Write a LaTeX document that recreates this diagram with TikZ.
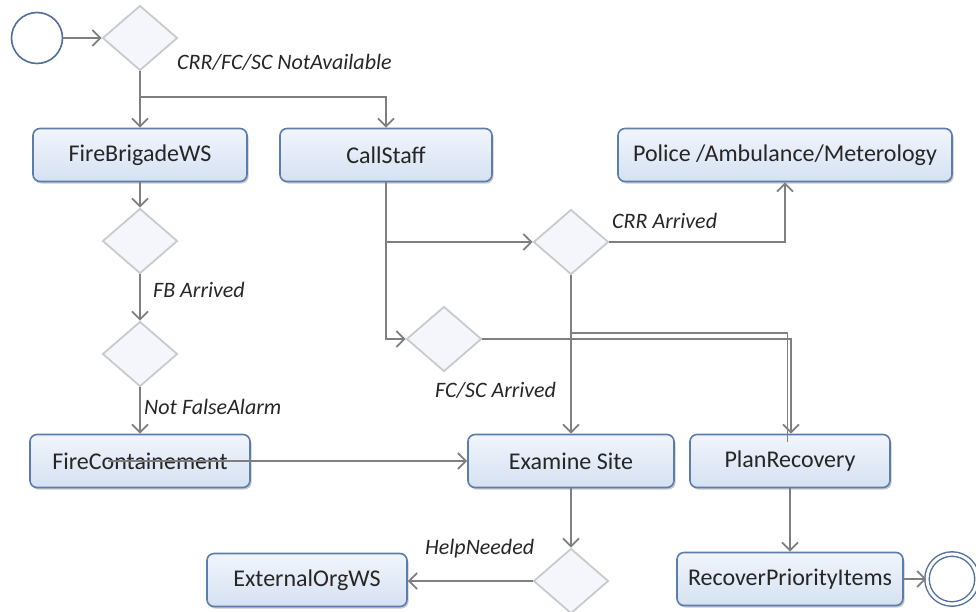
\documentclass[tikz,border=0pt]{standalone}
\usepackage{fontspec}
\setmainfont{Carlito}
\usepackage{xcolor}
\usepackage{tikz}
\usetikzlibrary{calc,arrows.meta,positioning,shapes.geometric,shadows}
\definecolor{boxedge}{HTML}{5B7DAE}
\definecolor{boxtop}{HTML}{F1F5FC}
\definecolor{boxbot}{HTML}{D5E1F2}
\definecolor{flowgray}{HTML}{7F7F7F}
\definecolor{diaedge}{HTML}{C8CACE}
\definecolor{diafill}{HTML}{F4F6FB}
\definecolor{startedge}{HTML}{4E6E9E}

\begin{document}
\begin{tikzpicture}[x=1pt, y=-1pt,
  box/.style={draw=boxedge, line width=1.6pt, rounded corners=7pt, top color=boxtop, bottom color=boxbot,
    minimum height=53pt, inner sep=2pt, text=black!85, font=\fontsize{24}{28}\selectfont,
    drop shadow={shadow xshift=1.5pt, shadow yshift=-2pt, opacity=.3, fill=black!70}},
  decision/.style={diamond, draw=diaedge, fill=diafill, line width=1.8pt, minimum width=75pt, minimum height=65pt, inner sep=0pt},
  link/.style={draw=flowgray, line width=1.8pt},
  flow/.style={link, -{Straight Barb[length=8pt,width=16pt,line width=1.8pt]}},
  guard/.style={anchor=west, inner sep=0pt, text=black!85, font=\fontsize{22}{26}\selectfont\itshape}]
  \useasboundingbox (0,0) rectangle (976,611);
  \node[circle, draw=startedge, line width=1.6pt, fill=white, minimum size=51pt, inner sep=0pt] (start) at (37,38) {};
  \node[decision] (dNA) at (140,38) {};
  \node[box, minimum width=214pt] (fbws) at (140,155) {FireBrigadeWS};
  \node[box, minimum width=212pt] (callstaff) at (386,155) {CallStaff};
  \node[box, minimum width=334pt] (police) at (785,155) {Police /Ambulance/Meterology};
  \node[decision] (dFB) at (140,241) {};
  \node[decision] (dAlarm) at (140,354) {};
  \node[decision] (dCRR) at (571,242) {};
  \node[decision] (dFCSC) at (444,339) {};
  \node[box, minimum width=220pt] (fcont) at (140,461) {FireContainement};
  \node[box, minimum width=206pt] (exam) at (571,461) {Examine Site};
  \node[box, minimum width=200pt] (plan) at (790,461) {PlanRecovery};
  \node[decision] (dHelp) at (571,581) {};
  \node[box, minimum width=200pt] (extorg) at (307,580) {ExternalOrgWS};
  \node[box, minimum width=226pt] (recover) at (790,579) {RecoverPriorityItems};
  \node[circle, draw=startedge, line width=1.4pt, double=white, double distance=3pt, minimum size=50pt, inner sep=0pt] (finish) at (952,579) {};

  \node[guard] (lNA) at (177,62) {CRR/FC/SC NotAvailable};
  \node[guard] (lFB) at (153,290) {FB Arrived};
  \node[guard] (lAlarm) at (144,407) {Not FalseAlarm};
  \node[guard] (lCRR) at (612,221) {CRR Arrived};
  \node[guard] (lFCSC) at (435,390) {FC/SC Arrived};
  \node[guard] (lHelp) at (425,549) {HelpNeeded};

  \coordinate (split) at (140,97);
  \coordinate (brCRR) at (571,333);
  \draw[flow] (start) -- (dNA);
  \draw[flow] (dNA) -- (fbws);
  \draw[flow] (split) -| (callstaff.north);
  \draw[flow] (fbws) -- (dFB);
  \draw[flow] (dFB) -- (dAlarm);
  \draw[flow] (dAlarm) -- (fcont);
  \draw[flow] ([xshift=-32pt]fcont.center) -- (exam.west);
  \draw[flow] (callstaff.south) |- (dFCSC.west);
  \draw[flow] (callstaff.south |- dCRR.west) -- (dCRR.west);
  \draw[flow] (dCRR.east) -| (police.south);
  \draw[flow] (dCRR) -- (exam);
  \draw[link] (brCRR) -| ([xshift=-2.5pt,yshift=-8pt]plan.north);
  \draw[flow] (dFCSC.east) -| ([xshift=1pt]plan.north);
  \draw[flow] (exam) -- (dHelp);
  \draw[flow] (dHelp.west) -- (dHelp.west -| extorg.east);
  \draw[flow] (plan) -- (recover);
  \draw[flow] (recover) -- (finish);
\end{tikzpicture}
\end{document}
